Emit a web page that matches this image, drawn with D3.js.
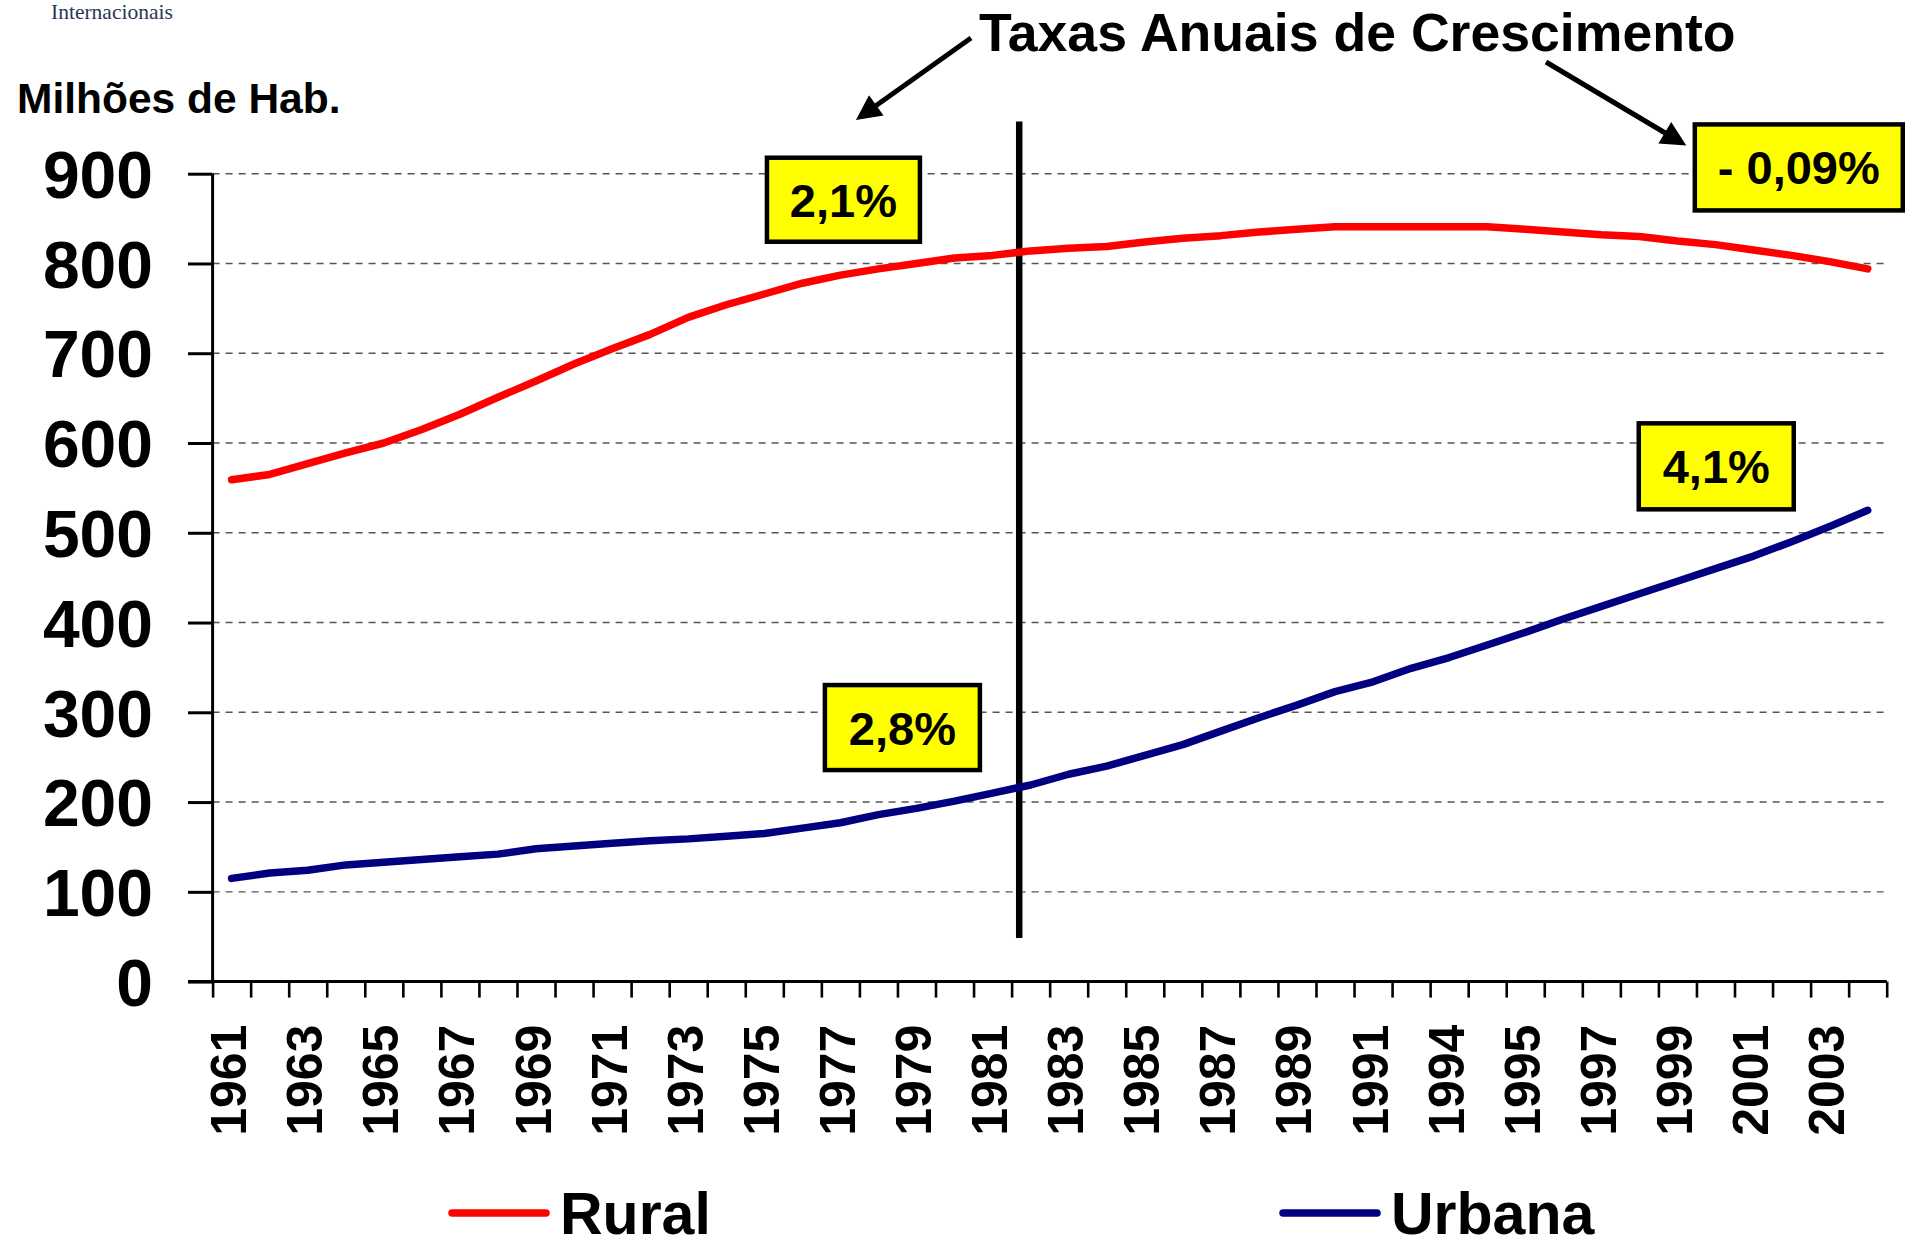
<!DOCTYPE html>
<html>
<head>
<meta charset="utf-8">
<script src="https://cdn.jsdelivr.net/npm/d3@7"></script>
<style>
  body { margin: 0; background: #fff; }
  text { font-family: "Liberation Sans", Arial, sans-serif; font-weight: bold; }
</style>
</head>
<body>
<svg id="chart"></svg>
<script>
// anos (o original repete "1994" no lugar de 1993)
const years = ["1961","1962","1963","1964","1965","1966","1967","1968","1969","1970",
    "1971","1972","1973","1974","1975","1976","1977","1978","1979","1980",
    "1981","1982","1983","1984","1985","1986","1987","1988","1989","1990",
    "1991","1992","1994","1994","1995","1996","1997","1998","1999","2000",
    "2001","2002","2003","2004"];

const rural = [559,565,577,589,600,615,632,651,669,688,
    705,721,740,754,766,778,787,794,800,806,
    809,814,817,819,824,828,831,835,838,841,
    841,841,841,841,838,835,832,830,825,821,
    815,809,802,794];

const urbana = [115,121,124,130,133,136,139,142,148,151,
    154,157,159,162,165,171,177,186,193,201,
    210,219,231,240,252,264,279,294,308,323,
    334,349,361,375,389,404,418,432,446,460,
    474,490,507,525];

const yTicks = [0,100,200,300,400,500,600,700,800,900];

// caixas de taxas: posição em unidades de categoria / valor
const rates = [
    {label: "2,1%", cat: 16.58, value: 871, w: 153, h: 84},
    {label: "- 0,09%", cat: 41.69, value: 907, w: 208, h: 86},
    {label: "2,8%", cat: 18.13, value: 283, w: 155, h: 85},
    {label: "4,1%", cat: 39.52, value: 574, w: 155, h: 86}
];
const splitCat = 21.2;

let width = 1905, height = 1239;
const plotLeft = 212.6, plotRight = 1886.7, plotTop = 173.7, plotBottom = 981.6;

const svg = d3.select("#chart")
    .attr("width", width)
    .attr("height", height);

const x = d3.scaleLinear()
    .domain([0, years.length])
    .range([plotLeft, plotRight]);

const y = d3.scaleLinear()
    .domain([0, 900])
    .range([plotBottom, plotTop]);

// logo (cortado no topo)
svg.append("text")
    .attr("x", 51).attr("y", 19)
    .style("font-family", "'Liberation Serif', serif")
    .style("font-weight", "normal")
    .attr("font-size", "21.5px")
    .attr("fill", "#2b3557")
    .text("Internacionais");

svg.append("text")
    .attr("x", 17).attr("y", 113)
    .attr("font-size", "42.5px")
    .text("Milhões de Hab.");

// grid
svg.append("g")
    .selectAll("line")
    .data(yTicks.filter(d => d > 0))
    .enter()
    .append("line")
    .attr("x1", plotLeft).attr("x2", plotRight)
    .attr("y1", d => y(d)).attr("y2", d => y(d))
    .attr("stroke", "#555")
    .attr("stroke-width", 1.4)
    .attr("stroke-dasharray", "7,6");

// eixo y
const yAxis = d3.axisLeft(y)
    .tickValues(yTicks)
    .tickSize(24.6)
    .tickPadding(35);

const gy = svg.append("g")
    .attr("transform", "translate(" + plotLeft + ",0)")
    .call(yAxis);
gy.select(".domain").attr("stroke-width", 3).attr("d", "M0," + plotTop + "V" + plotBottom);
gy.selectAll(".tick line").attr("stroke-width", 3);
gy.selectAll("text")
    .attr("font-size", "66px")
    .attr("dy", "0.36em")
    .attr("fill", "#000");

// eixo x: marcas entre as categorias
const xTicks = d3.axisBottom(x)
    .tickValues(d3.range(0, years.length + 1))
    .tickSize(16)
    .tickFormat("");

const gx = svg.append("g")
    .attr("transform", "translate(0," + plotBottom + ")")
    .call(xTicks);
gx.select(".domain").attr("stroke-width", 3).attr("d", "M" + (plotLeft - 24.6) + ",0H" + plotRight);
gx.selectAll(".tick line").attr("stroke-width", 2.6);

const xLabels = d3.axisBottom(x)
    .tickValues(d3.range(0, years.length, 2).map(i => i + 0.5))
    .tickSize(0)
    .tickFormat(d => years[Math.floor(d)]);

const gl = svg.append("g")
    .attr("transform", "translate(0," + plotBottom + ")")
    .call(xLabels);
gl.select(".domain").remove();
gl.selectAll("text")
    .attr("font-size", "50px")
    .attr("fill", "#000")
    .attr("transform", "rotate(-90)")
    .attr("text-anchor", "end")
    .attr("dy", null)
    .attr("x", -43)
    .attr("y", 14);

// linha vertical
svg.append("line")
    .attr("x1", x(splitCat)).attr("x2", x(splitCat))
    .attr("y1", 121.5).attr("y2", 938)
    .attr("stroke", "#000")
    .attr("stroke-width", 6.5);

// séries
const line = d3.line()
    .x((d, i) => x(i + 0.5))
    .y(d => y(d));

svg.append("path")
    .datum(rural)
    .attr("d", line)
    .attr("fill", "none")
    .attr("stroke", "#ff0000")
    .attr("stroke-width", 7.5)
    .attr("stroke-linecap", "round")
    .attr("stroke-linejoin", "round");

svg.append("path")
    .datum(urbana)
    .attr("d", line)
    .attr("fill", "none")
    .attr("stroke", "#000080")
    .attr("stroke-width", 7.5)
    .attr("stroke-linecap", "round")
    .attr("stroke-linejoin", "round");

// caixas amarelas
const boxes = svg.selectAll(".rate")
    .data(rates)
    .enter()
    .append("g")
    .attr("class", "rate")
    .attr("transform", d => "translate(" + x(d.cat) + "," + y(d.value) + ")");

boxes.append("rect")
    .attr("x", d => -d.w / 2)
    .attr("y", d => -d.h / 2)
    .attr("width", d => d.w)
    .attr("height", d => d.h)
    .attr("fill", "#ffff00")
    .attr("stroke", "#000")
    .attr("stroke-width", 4.5);

boxes.append("text")
    .attr("text-anchor", "middle")
    .attr("y", 17)
    .attr("font-size", "47px")
    .text(d => d.label);

// título e setas
const defs = svg.append("defs");
defs.append("marker")
    .attr("id", "arrow")
    .attr("viewBox", "0 0 10 10")
    .attr("refX", 8).attr("refY", 5)
    .attr("markerWidth", 6).attr("markerHeight", 5)
    .attr("markerUnits", "strokeWidth")
    .attr("orient", "auto")
    .append("path")
    .attr("d", "M0,0L10,5L0,10z")
    .attr("fill", "#000");

svg.append("text")
    .attr("x", 979).attr("y", 51)
    .attr("font-size", "53.6px")
    .text("Taxas Anuais de Crescimento");

svg.append("line")
    .attr("x1", 971).attr("y1", 38)
    .attr("x2", 860).attr("y2", 117)
    .attr("stroke", "#000")
    .attr("stroke-width", 5)
    .attr("marker-end", "url(#arrow)");

svg.append("line")
    .attr("x1", 1546).attr("y1", 62)
    .attr("x2", 1682).attr("y2", 143)
    .attr("stroke", "#000")
    .attr("stroke-width", 5)
    .attr("marker-end", "url(#arrow)");

// legenda
const legend = [
    {name: "Rural", color: "#ff0000", x: 452},
    {name: "Urbana", color: "#000080", x: 1283}
];

const lg = svg.selectAll(".legend")
    .data(legend)
    .enter()
    .append("g")
    .attr("class", "legend")
    .attr("transform", d => "translate(" + d.x + ",1213)");

lg.append("line")
    .attr("x1", 0).attr("x2", 94)
    .attr("stroke", d => d.color)
    .attr("stroke-width", 7.5)
    .attr("stroke-linecap", "round");

lg.append("text")
    .attr("x", 108).attr("y", 21)
    .attr("font-size", "59px")
    .text(d => d.name);
</script>
</body>
</html>
